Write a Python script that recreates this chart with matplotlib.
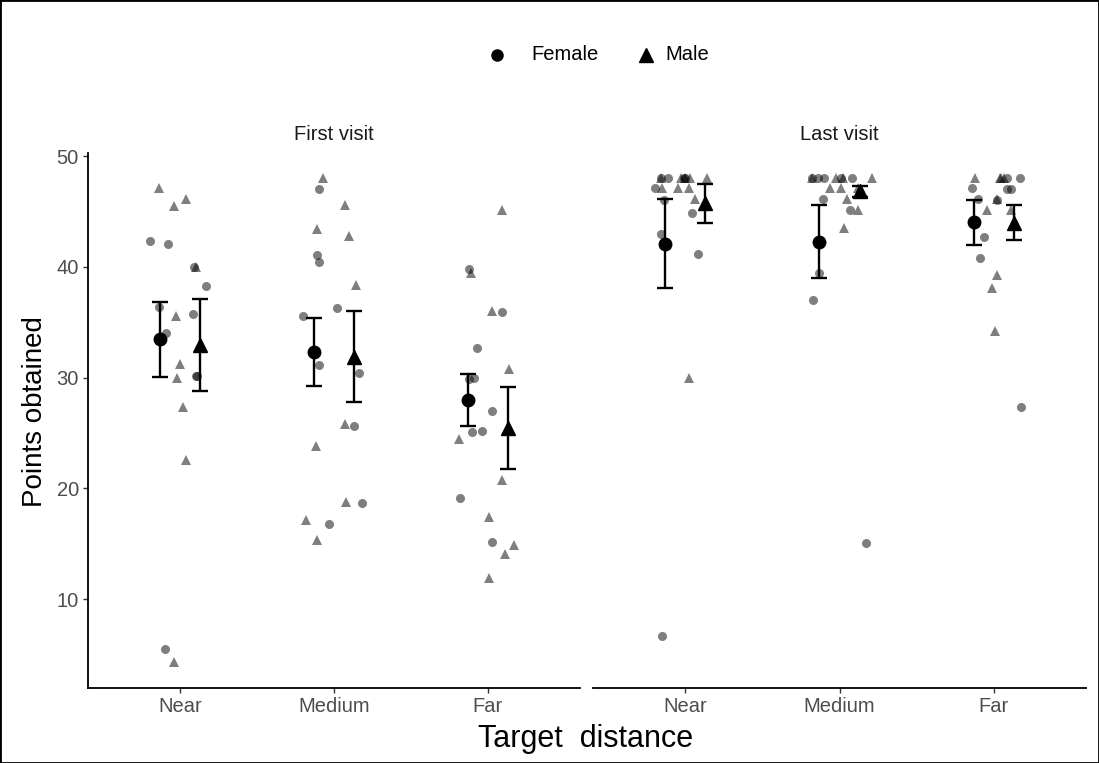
import numpy as np
import matplotlib.pyplot as plt
from matplotlib.lines import Line2D
from matplotlib.patches import Rectangle

plt.rcParams['font.family'] = ['Liberation Sans', 'DejaVu Sans']

distances = ['Near', 'Medium', 'Far']
visits = ['First visit', 'Last visit']
sexes = ['Female', 'Male']

# Points obtained by each participant
first_near_female = [42.3, 42.1, 40.0, 38.3, 36.4, 35.7, 34.0, 30.1, 30.1, 5.5]
first_near_male = [47.1, 46.1, 45.5, 40.0, 35.6, 31.2, 30.0, 27.3, 22.6, 4.3]
first_medium_female = [47.0, 41.1, 40.4, 36.3, 35.6, 31.1, 30.4, 25.6, 18.7, 16.8]
first_medium_male = [48.0, 45.6, 43.4, 42.8, 38.4, 25.8, 23.8, 18.8, 17.1, 15.3]
first_far_female = [39.8, 35.9, 32.7, 30.0, 29.9, 27.0, 25.2, 25.1, 19.1, 15.2]
first_far_male = [45.1, 39.4, 36.0, 30.8, 24.5, 20.8, 17.4, 14.9, 14.1, 11.9]
last_near_female = [48.0, 48.0, 48.0, 48.0, 47.1, 46.0, 44.9, 43.0, 41.2, 6.7]
last_near_male = [48.0, 48.0, 48.0, 48.0, 48.0, 47.1, 47.1, 47.1, 46.1, 30.0]
last_medium_female = [48.0, 48.0, 48.0, 48.0, 48.0, 46.1, 45.1, 39.4, 37.0, 15.1]
last_medium_male = [48.0, 48.0, 48.0, 48.0, 47.1, 47.1, 47.1, 46.1, 45.1, 43.5]
last_far_female = [48.0, 48.0, 47.1, 47.0, 47.0, 46.1, 46.0, 42.7, 40.8, 27.3]
last_far_male = [48.0, 48.0, 48.0, 48.0, 46.1, 45.1, 45.1, 39.3, 38.1, 34.2]

# Horizontal jitter of the individual points, in category units
jit_first_near_female = [-0.20, -0.08, 0.09, 0.17, -0.14, 0.08, -0.09, 0.10, 0.11, -0.10]
jit_first_near_male = [-0.14, 0.04, -0.04, 0.10, -0.03, 0.00, -0.02, 0.02, 0.04, -0.04]
jit_first_medium_female = [-0.10, -0.11, -0.10, 0.02, -0.20, -0.10, 0.16, 0.13, 0.18, -0.03]
jit_first_medium_male = [-0.07, 0.07, -0.11, 0.10, 0.14, 0.07, -0.12, 0.08, -0.18, -0.11]
jit_first_far_female = [-0.12, 0.09, -0.07, -0.09, -0.12, 0.03, -0.04, -0.10, -0.18, 0.03]
jit_first_far_male = [0.09, -0.11, 0.03, 0.14, -0.19, 0.09, 0.01, 0.17, 0.11, 0.01]
jit_last_near_female = [-0.16, -0.11, -0.01, 0.00, -0.20, -0.14, 0.04, -0.16, 0.08, -0.15]
jit_last_near_male = [-0.16, -0.03, 0.00, 0.03, 0.14, -0.15, -0.05, 0.02, 0.06, 0.02]
jit_last_medium_female = [-0.18, -0.14, -0.10, 0.01, 0.08, -0.11, 0.07, -0.13, -0.17, 0.17]
jit_last_medium_male = [-0.18, -0.02, 0.02, 0.21, -0.06, 0.01, 0.12, 0.05, 0.12, 0.03]
jit_last_far_female = [0.09, 0.17, -0.14, 0.09, 0.11, -0.10, 0.02, -0.06, -0.09, 0.18]
jit_last_far_male = [-0.12, 0.05, 0.04, 0.07, 0.02, -0.04, 0.11, 0.02, -0.01, 0.01]

scores = {
    'First visit': {
        'Near': {'Female': (first_near_female, jit_first_near_female),
                 'Male': (first_near_male, jit_first_near_male)},
        'Medium': {'Female': (first_medium_female, jit_first_medium_female),
                   'Male': (first_medium_male, jit_first_medium_male)},
        'Far': {'Female': (first_far_female, jit_first_far_female),
                'Male': (first_far_male, jit_first_far_male)},
    },
    'Last visit': {
        'Near': {'Female': (last_near_female, jit_last_near_female),
                 'Male': (last_near_male, jit_last_near_male)},
        'Medium': {'Female': (last_medium_female, jit_last_medium_female),
                   'Male': (last_medium_male, jit_last_medium_male)},
        'Far': {'Female': (last_far_female, jit_last_far_female),
                'Male': (last_far_male, jit_last_far_male)},
    },
}

markers = {'Female': 'o', 'Male': '^'}
raw_size = {'Female': 6.5, 'Male': 7.8}
mean_size = {'Female': 9.0, 'Male': 10.5}
dodge = {'Female': -0.13, 'Male': 0.13}

W, H = 1099, 763
fig = plt.figure(figsize=(W / 100, H / 100), dpi=100)
fig.patches.append(Rectangle((0, 0), 1, 1, transform=fig.transFigure,
                             fill=False, edgecolor='black', linewidth=2))

top_px, bot_px = 152.7, 688
panels = [(88, 580), (593, 1086)]
axes = []
for (x0, x1) in panels:
    ax = fig.add_axes([x0 / W, 1 - bot_px / H, (x1 - x0) / W, (bot_px - top_px) / H])
    axes.append(ax)

tick_grey = '#4D4D4D'
for ax, (x0, x1), visit in zip(axes, panels, visits):
    for i, dist in enumerate(distances):
        xc = i + 1
        for sex in sexes:
            vals, jit = scores[visit][dist][sex]
            ax.plot(xc + np.asarray(jit), np.asarray(vals), linestyle='none',
                    marker=markers[sex], markersize=raw_size[sex],
                    markerfacecolor='black', markeredgewidth=0,
                    alpha=0.5, zorder=2)
        for sex in sexes:
            vals = np.asarray(scores[visit][dist][sex][0])
            m = vals.mean()
            se = vals.std(ddof=1) / np.sqrt(len(vals))
            ax.errorbar(xc + dodge[sex], m, yerr=se, fmt=markers[sex],
                        color='black', markersize=mean_size[sex],
                        elinewidth=1.7, capsize=5.5, capthick=1.7, zorder=4)

    ax.set_xlim(0.4, 3.6)
    ax.set_ylim(1.98, 50.3)
    ax.set_xticks([1, 2, 3])
    ax.set_xticklabels(distances)
    ax.set_yticks([10, 20, 30, 40, 50])
    ax.spines['top'].set_visible(False)
    ax.spines['right'].set_visible(False)
    ax.spines['bottom'].set_linewidth(1.3)
    ax.spines['left'].set_linewidth(1.3)
    ax.tick_params(axis='both', colors='#333333', labelcolor=tick_grey,
                   labelsize=14.5, length=3.5, width=1.0, pad=3)
    ax.set_facecolor('none')
    fig.text((x0 + x1) / 2 / W, 1 - 134 / H, visit, ha='center', va='center',
             fontsize=14.5, color='#1A1A1A')

axes[1].spines['left'].set_visible(False)
axes[1].tick_params(axis='y', left=False, labelleft=False)

fig.text(35 / W, 1 - 412 / H, 'Points obtained', rotation=90,
         ha='center', va='center', fontsize=20)
fig.text(586 / W, 1 - 739 / H, 'Target  distance',
         ha='center', va='center', fontsize=22)

# Legend along the top: marker followed by its label
legend_items = [('Female', 497, 531), ('Male', 646, 665)]
for sex, mx, tx in legend_items:
    fig.add_artist(Line2D([mx / W], [1 - 55 / H], transform=fig.transFigure,
                          linestyle='none', marker=markers[sex], color='black',
                          markersize=mean_size[sex] - 1))
    fig.text(tx / W, 1 - 55 / H, sex, ha='left', va='center', fontsize=14.5)

fig.savefig('out.png', dpi=100, facecolor='white')
